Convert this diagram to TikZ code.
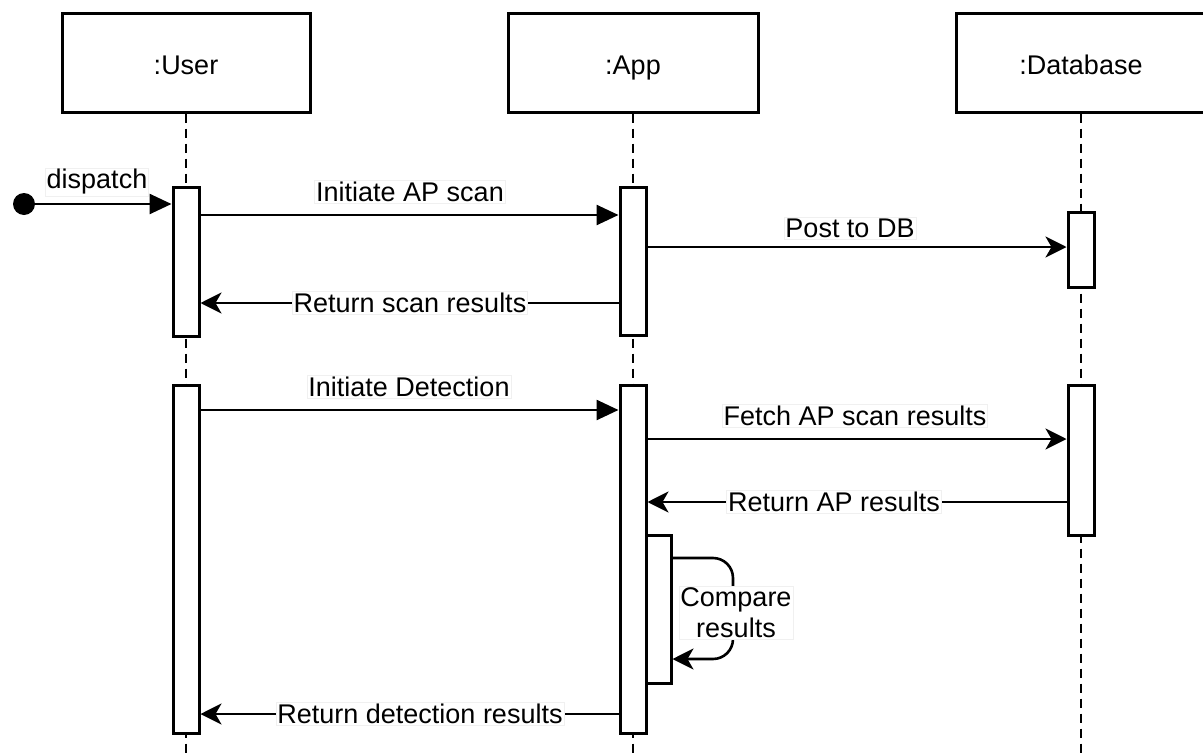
\documentclass[tikz,border=0pt]{standalone}
\usepackage{fontspec}
\setmainfont{Liberation Sans}
\usetikzlibrary{arrows.meta}
\begin{document}
\begin{tikzpicture}[x=1pt,y=-1pt,
  font=\fontsize{27}{31}\selectfont,
  head/.style={draw, fill=white, line width=3pt, minimum width=248pt, minimum height=99pt, inner sep=0pt, text height=23pt, text depth=0pt},
  act/.style={draw, fill=white, line width=3pt, minimum width=26pt, inner sep=0pt},
  life/.style={line width=2.6pt, dash pattern=on 9pt off 6pt},
  msg/.style={line width=2.6pt},
  call/.style={msg, -{Triangle[length=22pt,width=20pt]}},
  reply/.style={msg, -{Stealth[length=21pt,width=21pt,inset=6pt]}},
  lbl/.style={fill=white, draw=black!6, line width=0.8pt, inner sep=1.5pt, align=center}
]
\useasboundingbox (0,0) rectangle (1203,755);
\clip (0,0) rectangle (1203,755);

% lifeline heads
\node[head] (user) at (186,62.5) {:User};
\node[head, minimum width=250pt] (app) at (633,62.5) {:App};
\node[head, minimum width=250pt] (db) at (1081,62.5) {:Database};

% lifeline ends
\coordinate (userEnd) at (186,760);
\coordinate (appEnd) at (633,760);
\coordinate (dbEnd) at (1081,760);
\draw[life] (user.south) -- (userEnd);
\draw[life] (app.south) -- (appEnd);
\draw[life] (db.south) -- (dbEnd);

% activation bars
\node[act, minimum height=149pt] (ua1) at (186,261.5) {};
\node[act, minimum height=148pt] (aa1) at (633,261) {};
\node[act, minimum height=75pt] (da1) at (1081,249.5) {};
\node[act, minimum height=348pt] (ua2) at (186,559) {};
\node[act, minimum height=348pt] (aa2) at (633,559) {};
\node[act, minimum height=150pt] (da2) at (1081,460) {};
\node[act, minimum height=148pt, minimum width=25pt] (as) at (658.5,609) {};

% initial message
\node[circle, fill=black, minimum size=22pt, inner sep=0pt] (start) at (24,204) {};
\draw[call] (start) -- (ua1.west |- start);
\node[lbl] (l0) at (97,182) {dispatch};

% first round
\draw[call] (ua1.east |- 0,215) -- (aa1.west |- 0,215);
\node[lbl] (l1) at (410,192) {Initiate AP scan};
\draw[reply] (aa1.east |- 0,247) -- (da1.west |- 0,247);
\node[lbl] (l2) at (850,228) {Post to DB};
\draw[reply] (aa1.west |- 0,303) -- (ua1.east |- 0,303);
\node[lbl] (l3) at (410,303) {Return scan results};

% second round
\draw[call] (ua2.east |- 0,410) -- (aa2.west |- 0,410);
\node[lbl] (l4) at (409,387) {Initiate Detection};
\draw[reply] (aa2.east |- 0,439) -- (da2.west |- 0,439);
\node[lbl] (l5) at (855,416) {Fetch AP scan results};
\draw[reply] (da2.west |- 0,502) -- (aa2.east |- 0,502);
\node[lbl] (l6) at (834,502) {Return AP results};

% self call
\draw[reply, rounded corners=20pt] (as.east |- 0,558) -- (733,558) -- (733,659) -- (as.east |- 0,659);
\node[lbl] (l7) at (736,613) {Compare\\results};

% final reply
\draw[reply] (aa2.west |- 0,714) -- (ua2.east |- 0,714);
\node[lbl] (l8) at (420,714) {Return detection results};
\end{tikzpicture}
\end{document}
